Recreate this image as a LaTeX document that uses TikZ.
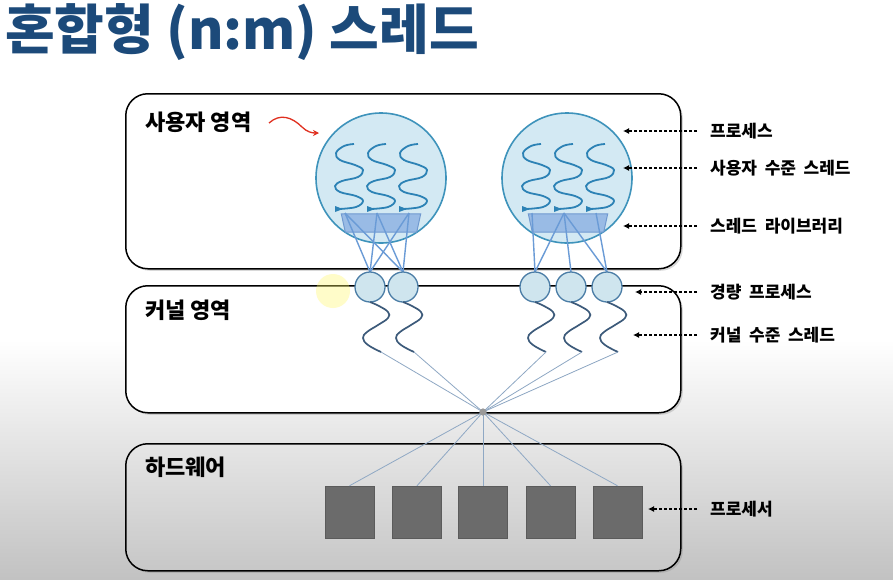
\documentclass[tikz,border=0pt]{standalone}
\usepackage{fontspec}
\setmainfont{Noto Sans CJK KR}
\usetikzlibrary{shadows,arrows.meta}
\definecolor{titleblue}{HTML}{1C4A7A}
\definecolor{procfill}{HTML}{D3E9F3}
\definecolor{procline}{HTML}{3E93BB}
\definecolor{threadc}{HTML}{2C82B5}
\definecolor{libfill}{HTML}{8FB4E3}
\definecolor{libline}{HTML}{7099D0}
\definecolor{lwpfill}{HTML}{CFE5EE}
\definecolor{lwpline}{HTML}{4B7DA6}
\definecolor{linkc}{HTML}{6A9BD6}
\definecolor{kthreadc}{HTML}{3C5A7A}
\definecolor{hubc}{HTML}{8FA8C4}
\definecolor{cpuc}{HTML}{6B6B6B}
\definecolor{redc}{HTML}{E03020}
\tikzset{
  area/.style={draw=black, line width=1.5pt, rounded corners=22pt, inner sep=0pt,
    minimum width=555pt, anchor=north west,
    drop shadow={shadow xshift=2pt, shadow yshift=-2pt, opacity=0.3}},
  arealabel/.style={anchor=west, inner sep=0pt, font=\bfseries\fontsize{22}{22}\selectfont},
  sidelabel/.style={anchor=west, inner sep=0pt, font=\bfseries\fontsize{17}{17}\selectfont},
  proc/.style={circle, minimum size=130pt, inner sep=0pt, fill=procfill, draw=procline, line width=1.6pt},
  libbox/.style={rectangle, minimum width=79pt, minimum height=18pt, inner sep=0pt},
  libshape/.style={fill=libfill, fill opacity=0.85, draw=libline, line width=1pt},
  lwp/.style={circle, minimum size=30pt, inner sep=0pt, fill=lwpfill, draw=lwpline, line width=1.3pt},
  link/.style={draw=linkc, line width=1.4pt},
  hubline/.style={draw=hubc, line width=0.8pt},
  hubdot/.style={circle, minimum size=7pt, inner sep=0pt, fill=gray!80},
  cpu/.style={rectangle, minimum width=49pt, minimum height=52pt, inner sep=0pt, fill=cpuc, draw=cpuc!85!black, line width=0.5pt},
  dasharrow/.style={draw=black, line width=1.1pt, dash pattern=on 3pt off 2pt, -{Latex[length=6pt,width=6pt]}},
  uthread/.pic={
    \draw[threadc, line width=1.8pt] plot[smooth, tension=0.65] coordinates
      {(5,-33) (-5,-31) (-13,-24) (-9,-17) (6,-12) (14,-7) (9,0) (-7,4) (-14,9) (-9,15) (7,19) (14,24) (7,30) (-10,32)};
    \fill[threadc] (-14,29) -- (-6,32) -- (-14,35) -- cycle;
    \coordinate (-foot) at (-4,36);
  },
  kthread/.pic={
    \draw[kthreadc, line width=1.7pt] plot[smooth, tension=0.7] coordinates
      {(0,15) (9,19) (18,25) (18,31) (8,38) (-3,45) (-7,51) (-2,58) (11,65)};
    \coordinate (-end) at (11,65);
  }
}
\begin{document}
\begin{tikzpicture}[x=1pt,y=-1pt]
\useasboundingbox (0,0) rectangle (893,579);
% background
\fill[white] (0,0) rectangle (893,340);
\shade[top color=white, bottom color=black!24] (0,340) rectangle (893,579);

% title
\node[anchor=west, inner sep=0pt, text=titleblue, font=\bfseries\fontsize{54}{54}\selectfont] (title) at (5,32) {혼합형 (n:m) 스레드};

% areas
\node[area, fill=white, minimum height=175pt] (user) at (125,93) {};
\node[area, fill=white, minimum height=127pt] (kernel) at (125,285) {};
\node[area, top color=black!10, bottom color=black!22, minimum height=127pt] (hw) at (125,443) {};

\node[arealabel] (userlbl) at (145,122) {사용자 영역};
\node[arealabel] (kernlbl) at (145,310) {커널 영역};
\node[arealabel] (hwlbl) at (145,467) {하드웨어};

% red arrow
\coordinate (r0) at (269,123);
\coordinate (r1) at (319,133);
\draw[redc, line width=1.3pt, -{Stealth[length=6pt,width=6pt]}] (r0) .. controls (280,113) and (292,117) .. (302,127) .. controls (307,132) and (312,133) .. (r1);

% processes
\node[proc] (p1) at (381,178) {};
\node[proc] (p2) at (567,178) {};
\node[libbox] (lib1) at (381,223) {};
\node[libbox] (lib2) at (568,223) {};
\foreach \L in {lib1,lib2}{
  \path[libshape] (\L.north west) -- (\L.north east) -- ([xshift=-4pt]\L.south east) -- ([xshift=4pt]\L.south west) -- cycle;
}

\pic (t1) at (349,177) {uthread};
\pic (t2) at (381,177) {uthread};
\pic (t3) at (413,177) {uthread};
\pic (t4) at (536,177) {uthread};
\pic (t5) at (568,177) {uthread};
\pic (t6) at (600,177) {uthread};

% LWPs
\coordinate (l1top) at (370,272);
\coordinate (l2top) at (403,272);
\coordinate (m1top) at (535,272);
\coordinate (m2top) at (571,272);
\coordinate (m3top) at (607,272);
\foreach \a in {t1-foot,t2-foot,t3-foot}{
  \draw[link] (\a) -- (l1top);
  \draw[link] (\a) -- (l2top);
}
\draw[link] (t4-foot) -- (m1top);
\draw[link] (t5-foot) -- (m1top);
\draw[link] (t5-foot) -- (m2top);
\draw[link] (t5-foot) -- (m3top);
\draw[link] (t6-foot) -- (m3top);

\node[lwp] (l1) at (370,287) {};
\node[lwp] (l2) at (403,287) {};
\node[lwp] (m1) at (535,287) {};
\node[lwp] (m2) at (571,287) {};
\node[lwp] (m3) at (607,287) {};

% kernel threads
\pic (k1) at (370,287) {kthread};
\pic (k2) at (403,287) {kthread};
\pic (k3) at (535,287) {kthread};
\pic (k4) at (571,287) {kthread};
\pic (k5) at (607,287) {kthread};

% hub
\node[hubdot] (hub) at (483,412) {};
\foreach \k in {k1-end,k2-end,k3-end,k4-end,k5-end}{
  \draw[hubline] (\k) -- (hub.center);
}

% processors
\node[cpu] (c1) at (349.5,512) {};
\node[cpu] (c2) at (417,512) {};
\node[cpu] (c3) at (483,512) {};
\node[cpu] (c4) at (550.5,512) {};
\node[cpu] (c5) at (617.5,512) {};
\foreach \c in {c1,c2,c3,c4,c5}{
  \draw[hubline] (hub.center) -- (\c.north);
}
\node[hubdot] (hub2) at (483,412) {};

% cursor highlight
\node[circle, minimum size=34pt, inner sep=0pt, fill=yellow!60, opacity=0.35] (cursor) at (333,291) {};

% side labels
\node[sidelabel] (s1) at (710,131) {프로세스};
\node[sidelabel] (s2) at (710,168) {사용자\hspace{0.45em}수준\hspace{0.45em}스레드};
\node[sidelabel] (s3) at (710,226) {스레드\hspace{0.45em}라이브러리};
\node[sidelabel] (s4) at (710,292) {경량\hspace{0.45em}프로세스};
\node[sidelabel] (s5) at (710,335) {커널\hspace{0.45em}수준\hspace{0.45em}스레드};
\node[sidelabel] (s6) at (710,509) {프로세서};
\coordinate (a1) at (623,131);
\coordinate (a2) at (623,168);
\coordinate (a3) at (623,226);
\coordinate (a4) at (635,292);
\coordinate (a5) at (633,335);
\coordinate (a6) at (648,509);
\draw[dasharrow] ([xshift=-13pt]s1.west) -- (a1);
\draw[dasharrow] ([xshift=-13pt]s2.west) -- (a2);
\draw[dasharrow] ([xshift=-13pt]s3.west) -- (a3);
\draw[dasharrow] ([xshift=-13pt]s4.west) -- (a4);
\draw[dasharrow] ([xshift=-13pt]s5.west) -- (a5);
\draw[dasharrow] ([xshift=-13pt]s6.west) -- (a6);
\end{tikzpicture}
\end{document}
